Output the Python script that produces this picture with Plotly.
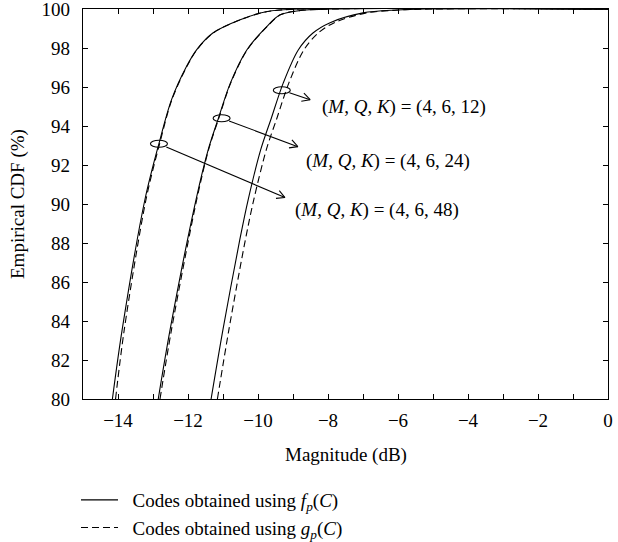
import math
import plotly.graph_objects as go

# ---------------- data ----------------
# (M,Q,K) = (4,6,48)
k48_f_x = [-14.16, -13.88, -13.23, -12.83, -12.47, -12.04, -11.75, -11.29, -10.51, -9.77, -8.8, 0]
k48_f_y = [80, 83.57, 90.23, 93.1, 95.35, 97.06, 97.92, 98.77, 99.45, 99.86, 100, 100]
k48_g_x = [-14.07, -13.82, -13.2, -12.81, -12.46, -12.03, -11.74, -11.28, -10.5, -9.76, -8.8, 0]
k48_g_y = [80, 83.57, 90.23, 93.1, 95.35, 97.06, 97.92, 98.77, 99.45, 99.86, 100, 100]
# (M,Q,K) = (4,6,24)
k24_f_x = [-12.85, -12.51, -11.77, -11.42, -11.13, -10.79, -10.32, -9.75, -9.37, -8.89, -7.9, 0]
k24_f_y = [80, 83.57, 90.23, 92.8, 94.4, 96.2, 97.9, 99.1, 99.7, 99.9, 100, 100]
k24_g_x = [-12.8, -12.47, -11.75, -11.41, -11.12, -10.78, -10.31, -9.74, -9.36, -8.88, -7.9, 0]
k24_g_y = [80, 83.57, 90.23, 92.8, 94.4, 96.2, 97.9, 99.1, 99.7, 99.9, 100, 100]
# (M,Q,K) = (4,6,12)
k12_f_x = [-11.34, -11.0, -10.52, -10.28, -9.92, -9.62, -9.28, -8.85, -8.43, -7.94, -7.0, -6.03, -5.2, 0]
k12_f_y = [80, 83.57, 88.17, 90.23, 92.8, 94.4, 96.2, 97.9, 98.77, 99.3, 99.8, 99.95, 100, 100]
k12_g_x = [-11.16, -10.83, -10.36, -10.12, -9.76, -9.46, -9.12, -8.69, -8.28, -7.82, -6.9, -5.95, -5.1, 0]
k12_g_y = [80, 83.57, 88.17, 90.23, 92.8, 94.4, 96.2, 97.9, 98.77, 99.3, 99.8, 99.95, 100, 100]

legend_f = "\u00a0\u00a0Codes obtained using <i>f<sub>p</sub></i>(<i>C</i>)"
legend_g = "\u00a0\u00a0Codes obtained using <i>g<sub>p</sub></i>(<i>C</i>)"

# annotation labels: ellipse centre, arrow head, text anchor
ann_labels = ["(<i>M</i>, <i>Q</i>, <i>K</i>)\u00a0=\u00a0(4, 6, 12)",
              "(<i>M</i>, <i>Q</i>, <i>K</i>)\u00a0=\u00a0(4, 6, 24)",
              "(<i>M</i>, <i>Q</i>, <i>K</i>)\u00a0=\u00a0(4, 6, 48)"]
ell_x = [-9.32, -11.04, -12.83]
ell_y = [95.83, 94.40, 93.09]
head_x = [-8.51, -8.86, -9.23]
head_y = [95.35, 92.94, 90.33]
text_x = [-8.23, -8.69, -9.0]
text_y = [94.98, 92.2, 89.7]

x_tickvals = list(range(-14, 1, 2))
x_ticktext = ["0" if v == 0 else "\u2212" + str(-v) for v in x_tickvals]
y_tickvals = list(range(80, 101, 2))
y_ticktext = [str(v) for v in y_tickvals]

x_title = "Magnitude (dB)"
y_title = "Empirical CDF (%)"

X_RANGE = [-15, 0]
Y_RANGE = [80, 100]

# ---------------- figure ----------------
W, H = 618, 542
ML, MR, MT, MB = 83, 10, 9, 143
FONT = "Liberation Serif"
FS = 19

fig = go.Figure()
series = [
    (k48_f_x, k48_f_y, "solid", legend_f, True, "f"),
    (k48_g_x, k48_g_y, "7px,4px", legend_g, True, "g"),
    (k24_f_x, k24_f_y, "solid", legend_f, False, "f"),
    (k24_g_x, k24_g_y, "7px,4px", legend_g, False, "g"),
    (k12_f_x, k12_f_y, "solid", legend_f, False, "f"),
    (k12_g_x, k12_g_y, "7px,4px", legend_g, False, "g"),
]
for xs, ys, dash, name, show, grp in series:
    fig.add_trace(go.Scatter(
        x=xs, y=ys, mode="lines", name=name, showlegend=show, legendgroup=grp,
        line=dict(color="black", width=1.1, dash=dash, shape="spline", smoothing=0.9),
    ))

plot_w = W - ML - MR
plot_h = H - MT - MB
sx = plot_w / (X_RANGE[1] - X_RANGE[0])
sy = plot_h / (Y_RANGE[1] - Y_RANGE[0])

shapes = []
annotations = []
for i in range(3):
    shapes.append(dict(type="circle", xref="x", yref="y",
                       xsizemode="pixel", ysizemode="pixel",
                       xanchor=ell_x[i], yanchor=ell_y[i],
                       x0=-8.5, x1=8.5, y0=-3.5, y1=3.5,
                       line=dict(color="black", width=1.1)))
    dx = (head_x[i] - ell_x[i]) * sx
    dy = (head_y[i] - ell_y[i]) * sy
    n = math.hypot(dx, dy)
    ux, uy = dx / n, dy / n
    start = 8.0  # pixels from ellipse centre
    shapes.append(dict(type="line", xref="x", yref="y",
                       x0=ell_x[i] + ux * start / sx, y0=ell_y[i] + uy * start / sy,
                       x1=head_x[i], y1=head_y[i],
                       line=dict(color="black", width=1.1)))
    L, th = 9, math.radians(28)
    for s in (1, -1):
        c, si = math.cos(s * th), math.sin(s * th)
        bx, by = -ux * L, -uy * L
        wx, wy = bx * c - by * si, bx * si + by * c
        shapes.append(dict(type="line", xref="x", yref="y",
                           xsizemode="pixel", ysizemode="pixel",
                           xanchor=head_x[i], yanchor=head_y[i],
                           x0=0, y0=0, x1=wx, y1=wy,
                           line=dict(color="black", width=1.1)))
    annotations.append(dict(x=text_x[i], y=text_y[i], xref="x", yref="y",
                            text=ann_labels[i], showarrow=False,
                            xanchor="left", yanchor="middle",
                            font=dict(family=FONT, size=FS, color="black")))

# axis titles
annotations.append(dict(xref="paper", yref="paper", x=0.5, y=-(455 - (H - MB)) / plot_h,
                        text=x_title, showarrow=False, xanchor="center", yanchor="middle",
                        font=dict(family=FONT, size=FS, color="black")))
annotations.append(dict(xref="paper", yref="paper", x=-(ML - 18) / plot_w, y=0.5,
                        text=y_title, showarrow=False, textangle=-90,
                        xanchor="center", yanchor="middle",
                        font=dict(family=FONT, size=FS, color="black")))

axis_common = dict(showline=True, linecolor="black", linewidth=1.3, mirror="ticks",
                   ticks="inside", ticklen=5, tickwidth=1, tickcolor="black",
                   showgrid=False, zeroline=False, ticklabeloverflow="allow",
                   tickfont=dict(family=FONT, size=FS, color="black"))

fig.update_layout(
    width=W, height=H,
    margin=dict(l=ML, r=MR, t=MT, b=MB, autoexpand=False),
    plot_bgcolor="white", paper_bgcolor="white",
    font=dict(family=FONT, size=FS, color="black"),
    xaxis=dict(range=X_RANGE, tickmode="array", tickvals=x_tickvals, ticktext=x_ticktext,
               ticklabelstandoff=4,
               minor=dict(dtick=1, tick0=0, ticks="inside", ticklen=5, tickwidth=1,
                          tickcolor="black", showgrid=False),
               **axis_common),
    yaxis=dict(range=Y_RANGE, tickmode="array", tickvals=y_tickvals, ticktext=y_ticktext,
               ticklabelstandoff=8, **axis_common),
    shapes=shapes,
    annotations=annotations,
    showlegend=True,
    legend=dict(xref="container", yref="container", x=76 / W, y=1 - 481 / H,
                xanchor="left", yanchor="top", bgcolor="rgba(0,0,0,0)",
                borderwidth=0, font=dict(family=FONT, size=FS, color="black"),
                itemwidth=37, tracegroupgap=0),
)

fig.write_html("out.html")
